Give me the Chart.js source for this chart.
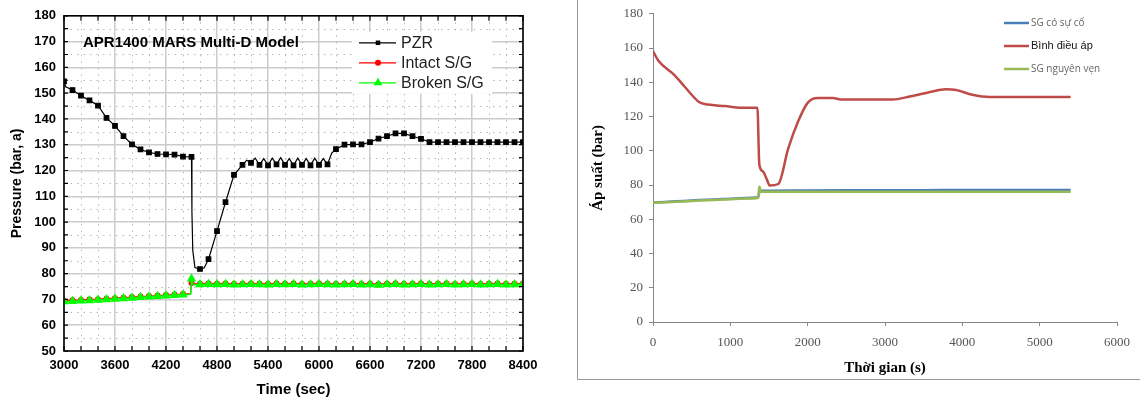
<!DOCTYPE html>
<html>
<head>
<meta charset="utf-8">
<script src="https://cdn.jsdelivr.net/npm/chart.js@4/dist/chart.umd.min.js"></script>
<style>
  body { margin: 0; background: #fff; width: 1140px; height: 401px; overflow: hidden; position: relative; }
  #leftChart { position: absolute; left: 0; top: 0; }
  #rightBox { position: absolute; left: 577px; top: -2px; width: 570px; height: 380px; border: 1px solid #9a9a9a; }
  #rightChart { position: absolute; left: 578px; top: 0; }
</style>
</head>
<body>
<canvas id="leftChart" width="560" height="401"></canvas>
<div id="rightBox"></div>
<canvas id="rightChart" width="562" height="379"></canvas>
<script>
// ---- left chart: APR1400 MARS Multi-D model (time in sec, pressure in bar) ----
const pzrTime = [3000, 3020, 3100, 3200, 3300, 3400, 3500, 3600, 3700, 3800, 3900, 4000, 4100, 4200, 4300, 4400,
    4500, 4505, 4515, 4540, 4600, 4650, 4700, 4800, 4900, 5000, 5100,
    5150, 5200, 5250, 5300, 5350, 5400, 5450, 5500, 5550, 5600, 5650, 5700, 5750, 5800, 5850, 5900, 5950, 6000, 6050, 6100,
    6150, 6200, 6300, 6400, 6500, 6600, 6700, 6800, 6900, 7000, 7100, 7200, 7300,
    7400, 7500, 7600, 7700, 7800, 7900, 8000, 8100, 8200, 8300, 8400];
const pzrPressure = [154.6, 152.5, 151.2, 149.0, 147.2, 145.2, 140.4, 137.3, 133.3, 130.1, 128.2, 127.0, 126.4, 126.3, 126.2, 125.4,
    125.3, 104.0, 89.0, 82.4, 81.8, 82.3, 85.6, 96.5, 107.7, 118.3, 122.2,
    124.0, 123.0, 124.8, 122.2, 124.6, 122.0, 124.8, 122.4, 125.0, 122.2, 124.6, 122.0, 124.8, 122.2, 124.6, 122.0, 124.8, 122.2, 124.6, 122.4,
    126.8, 128.3, 130.0, 130.1, 130.1, 131.0, 132.4, 133.3, 134.4, 134.4, 133.3, 132.3, 131.0,
    131.0, 131.0, 131.0, 131.0, 131.0, 131.0, 131.0, 131.0, 131.0, 131.0, 131.0];

const sgTime = [3000, 3100, 3200, 3300, 3400, 3500, 3600, 3700, 3800, 3900, 4000, 4100, 4200, 4300, 4400,
    4490, 4500, 4520,
    4600, 4700, 4800, 4900, 5000, 5100, 5200, 5300, 5400, 5500,
    5600, 5700, 5800, 5900, 6000, 6100, 6200, 6300, 6400, 6500,
    6600, 6700, 6800, 6900, 7000, 7100, 7200, 7300, 7400, 7500,
    7600, 7700, 7800, 7900, 8000, 8100, 8200, 8300, 8400];
const intactSG = [69.5, 69.7, 69.8, 70.0, 70.1, 70.3, 70.5, 70.7, 70.9, 71.1, 71.3, 71.5, 71.7, 71.9, 72.1,
    72.3, 76.4, 76.0,
    76.1, 76.2, 76.1, 76.2, 76.0, 76.1, 76.2, 76.1, 76.0, 76.2,
    76.1, 76.2, 76.0, 76.1, 76.2, 76.1, 76.0, 76.1, 76.2, 76.0,
    76.1, 75.9, 76.1, 76.2, 76.0, 76.1, 76.2, 76.0, 76.1, 76.2,
    76.0, 76.1, 76.2, 76.0, 76.1, 76.2, 76.0, 76.1, 76.2];
const brokenSG = [69.2, 69.3, 69.5, 69.6, 69.8, 70.0, 70.2, 70.4, 70.6, 70.8, 71.0, 71.2, 71.4, 71.6, 71.8,
    72.0, 78.0, 75.6,
    75.8, 75.9, 75.8, 75.9, 75.7, 75.8, 75.9, 75.8, 75.7, 75.9,
    75.8, 75.9, 75.7, 75.8, 75.9, 75.8, 75.7, 75.8, 75.9, 75.7,
    75.8, 75.6, 75.8, 75.9, 75.7, 75.8, 75.9, 75.7, 75.8, 75.9,
    75.7, 75.8, 75.9, 75.7, 75.8, 75.9, 75.7, 75.8, 75.9];
const leftNames = ['PZR', 'Intact S/G', 'Broken S/G'];
const leftTitle = 'APR1400 MARS Multi-D Model';

// ---- right chart: time in s, pressure in bar ----
const faultSGTime = [0, 300, 600, 900, 1200, 1360, 1380, 1500, 2000, 2500, 3000, 3500, 4000, 4500, 5000, 5400];
const faultSG = [69.8, 70.5, 71.2, 71.8, 72.4, 72.8, 76.6, 76.7, 76.8, 76.9, 77.0, 77.0, 77.1, 77.1, 77.1, 77.1];
const przTime = [0, 70, 280, 410, 600, 710, 930, 1140, 1350, 1375, 1420, 1470, 1510, 1620, 1750, 1880, 2000, 2130,
    2330, 2430, 2540, 3100, 3320, 3570, 3790, 3920, 4130, 4350, 5400];
const przPressure = [158.2, 152.6, 144.1, 137.4, 128.3, 127.0, 126.1, 125.1, 125.1, 92.0, 88.0, 83.5, 79.7, 80.6, 101.5, 117.5, 128.0, 130.8,
    130.8, 129.9, 129.9, 129.9, 131.7, 134.2, 135.9, 135.5, 132.7, 131.4, 131.4];
const goodSGTime = [0, 300, 600, 900, 1200, 1360, 1375, 1395, 1500, 2000, 2500, 3000, 3500, 4000, 4500, 5000, 5400];
const goodSG = [69.6, 70.2, 70.9, 71.5, 72.1, 72.6, 79.2, 76.0, 76.0, 76.0, 76.1, 76.1, 76.1, 76.1, 76.1, 76.1, 76.1];
const rightNames = ['SG có sự cố', 'Bình điều áp', 'SG nguyên vẹn'];

const pairs = (xs, ys) => xs.map((x, i) => ({x: x, y: ys[i]}));
const every100 = r => ctx => (ctx.raw && ctx.raw.x % 100 === 0 ? r : 0);
const plain = { useGrouping: false };

function drawMarker(ctx, style, color, r, x, y) {
    ctx.fillStyle = color;
    ctx.beginPath();
    if (style === 'rect') {
        const s = r * Math.SQRT1_2;
        ctx.rect(x - s, y - s, 2 * s, 2 * s);
    } else if (style === 'triangle') {
        ctx.moveTo(x, y - r);
        ctx.lineTo(x + r * 0.87, y + r * 0.5);
        ctx.lineTo(x - r * 0.87, y + r * 0.5);
        ctx.closePath();
    } else {
        ctx.arc(x, y, r, 0, Math.PI * 2);
    }
    ctx.fill();
}

// dotted minor grid, inward ticks, frame, title and legend of the left chart
const leftDecor = {
    id: 'leftDecor',
    beforeDatasetsDraw(chart) {
        const {ctx, chartArea: a, scales: {x, y}} = chart;
        ctx.save();
        ctx.strokeStyle = '#b8b8b8';
        ctx.lineWidth = 1;
        ctx.setLineDash([1.5, 5]);
        for (let t = 3200; t < 8400; t += 200) {
            if ((t - 3000) % 600 === 0) continue;
            const px = Math.round(x.getPixelForValue(t)) + 0.5;
            ctx.beginPath(); ctx.moveTo(px, a.top); ctx.lineTo(px, a.bottom); ctx.stroke();
        }
        for (let v = 55; v < 180; v += 10) {
            const py = Math.round(y.getPixelForValue(v)) + 0.5;
            ctx.beginPath(); ctx.moveTo(a.left, py); ctx.lineTo(a.right, py); ctx.stroke();
        }
        ctx.restore();
    },
    afterDatasetsDraw(chart) {
        const {ctx, chartArea: a, scales: {x, y}} = chart;
        ctx.save();
        ctx.strokeStyle = '#000';
        ctx.lineWidth = 1.2;
        for (let t = 3000; t <= 8400; t += 200) {
            const px = x.getPixelForValue(t);
            ctx.beginPath();
            ctx.moveTo(px, a.bottom); ctx.lineTo(px, a.bottom - 5);
            ctx.moveTo(px, a.top); ctx.lineTo(px, a.top + 5);
            ctx.stroke();
        }
        for (let v = 50; v <= 180; v += 5) {
            const py = y.getPixelForValue(v);
            ctx.beginPath();
            ctx.moveTo(a.left, py); ctx.lineTo(a.left + 4, py);
            ctx.moveTo(a.right, py); ctx.lineTo(a.right - 4, py);
            ctx.stroke();
        }
        ctx.lineWidth = 1.6;
        ctx.strokeRect(a.left, a.top, a.right - a.left, a.bottom - a.top);

        ctx.fillStyle = '#000';
        ctx.font = 'bold 15px "Liberation Sans", Arial, sans-serif';
        ctx.textBaseline = 'middle';
        ctx.fillText(leftTitle, a.left + 19, a.top + 27);

        // legend box
        ctx.fillStyle = '#fff';
        ctx.fillRect(a.left + 288, a.top + 16, 140, 62);
        const ds = chart.data.datasets;
        [0, 1, 2].forEach((i, k) => {
            const d = ds[i];
            const ly = a.top + 27 + k * 20;
            const lx = a.left + 295;
            ctx.strokeStyle = d.borderColor;
            ctx.lineWidth = 1.3;
            ctx.beginPath(); ctx.moveTo(lx, ly); ctx.lineTo(lx + 37, ly); ctx.stroke();
            drawMarker(ctx, d.pointStyle, d.borderColor, d.legendRadius, lx + 19, ly);
            ctx.fillStyle = '#222';
            ctx.font = '16px "Liberation Sans", Arial, sans-serif';
            ctx.fillText(d.label, lx + 42, ly + 1);
        });
        ctx.restore();
    }
};

new Chart(document.getElementById('leftChart'), {
    type: 'line',
    data: {
        datasets: [{
            label: leftNames[0],
            data: pairs(pzrTime, pzrPressure),
            borderColor: '#000000',
            backgroundColor: '#000000',
            borderWidth: 1.2,
            pointStyle: 'rect',
            pointRadius: every100(3.2),
            legendRadius: 3.2,
            order: 0
        }, {
            label: leftNames[1],
            data: pairs(sgTime, intactSG),
            borderColor: '#ff0000',
            backgroundColor: '#ff0000',
            borderWidth: 1.2,
            pointStyle: 'circle',
            pointRadius: every100(2.4),
            legendRadius: 3,
            order: 2
        }, {
            label: leftNames[2],
            data: pairs(sgTime, brokenSG),
            borderColor: '#00ff00',
            backgroundColor: '#00ff00',
            borderWidth: 1.5,
            pointStyle: 'triangle',
            pointRadius: every100(4),
            legendRadius: 5,
            order: 1
        }]
    },
    options: {
        responsive: false,
        animation: false,
        layout: { padding: { top: 13, right: 37, left: 0, bottom: 0 } },
        elements: { line: { tension: 0 }, point: { borderWidth: 0, hoverRadius: 0 } },
        scales: {
            x: {
                type: 'linear',
                min: 3000, max: 8400,
                afterFit: s => { s.height = 50; },
                ticks: { stepSize: 600, padding: 7, color: '#000', format: plain,
                    font: { family: '"Liberation Sans", Arial', size: 13, weight: 'bold' } },
                grid: { color: '#cccccc', lineWidth: 1.5, drawTicks: false },
                border: { display: false },
                title: { display: true, text: 'Time (sec)', color: '#000', padding: { top: 0, bottom: 2 },
                    font: { family: '"Liberation Sans", Arial', size: 15, weight: 'bold' } }
            },
            y: {
                min: 50, max: 180,
                afterFit: s => { s.width = 64; },
                ticks: { stepSize: 10, padding: 8, color: '#000', format: plain,
                    font: { family: '"Liberation Sans", Arial', size: 13, weight: 'bold' } },
                grid: { color: '#cccccc', lineWidth: 1.5, drawTicks: false },
                border: { display: false },
                title: { display: true, text: 'Pressure (bar, a)', color: '#000', padding: { top: 9, bottom: 0 },
                    font: { family: '"Liberation Sans", Arial', size: 14, weight: 'bold' } }
            }
        },
        plugins: {
            legend: { display: false },
            tooltip: { enabled: false }
        }
    },
    plugins: [leftDecor]
});

// legend of the right chart, at the right of the plot
const rightLegend = {
    id: 'rightLegend',
    afterDraw(chart) {
        const {ctx} = chart;
        const ds = chart.data.datasets;
        ctx.save();
        ctx.textBaseline = 'middle';
        [0, 1, 2].forEach((i, k) => {
            const d = ds[i];
            const ly = 23 + k * 23;
            ctx.strokeStyle = d.borderColor;
            ctx.lineWidth = 2.5;
            ctx.beginPath(); ctx.moveTo(426, ly); ctx.lineTo(451, ly); ctx.stroke();
            ctx.fillStyle = d.legendColor;
            ctx.font = d.legendFont;
            ctx.fillText(d.label, 453, ly);
        });
        ctx.restore();
    }
};

new Chart(document.getElementById('rightChart'), {
    type: 'line',
    data: {
        datasets: [{
            label: rightNames[0],
            data: pairs(faultSGTime, faultSG),
            borderColor: '#4a7ebb',
            legendColor: '#666',
            legendFont: '10px "Open Sans", "Liberation Sans", sans-serif',
            order: 2
        }, {
            label: rightNames[1],
            data: pairs(przTime, przPressure),
            borderColor: '#be4b48',
            legendColor: '#111',
            legendFont: '11px "Liberation Sans", Arial, sans-serif',
            order: 0
        }, {
            label: rightNames[2],
            data: pairs(goodSGTime, goodSG),
            borderColor: '#98b954',
            legendColor: '#666',
            legendFont: '10px "Open Sans", "Liberation Sans", sans-serif',
            order: 1
        }]
    },
    options: {
        responsive: false,
        animation: false,
        layout: { padding: { top: 5, right: 23, left: 0, bottom: 0 } },
        elements: {
            line: { tension: 0.3, cubicInterpolationMode: 'monotone', borderWidth: 2.5 },
            point: { radius: 0, hoverRadius: 0 }
        },
        scales: {
            x: {
                type: 'linear',
                min: 0, max: 6000,
                afterFit: s => { s.height = 57; },
                ticks: { stepSize: 1000, padding: 9, color: '#555', format: plain,
                    font: { family: '"Liberation Serif", serif', size: 13 } },
                grid: { drawOnChartArea: false, drawTicks: true, tickLength: 4, color: '#868686' },
                border: { color: '#868686' },
                title: { display: true, text: 'Thời gian (s)', color: '#000', padding: { top: 0, bottom: 2 },
                    font: { family: '"Liberation Serif", serif', size: 15, weight: 'bold' } }
            },
            y: {
                min: 0, max: 180,
                afterFit: s => { s.width = 75; },
                ticks: { stepSize: 20, padding: 6, color: '#555', format: plain,
                    font: { family: '"Liberation Serif", serif', size: 13 } },
                grid: { drawOnChartArea: false, drawTicks: true, tickLength: 4, color: '#868686' },
                border: { color: '#868686' },
                title: { display: true, text: 'Áp suất (bar)', color: '#000', padding: { top: 11, bottom: 0 },
                    font: { family: '"Liberation Serif", serif', size: 15, weight: 'bold' } }
            }
        },
        plugins: {
            legend: { display: false },
            tooltip: { enabled: false }
        }
    },
    plugins: [rightLegend]
});
</script>
</body>
</html>
